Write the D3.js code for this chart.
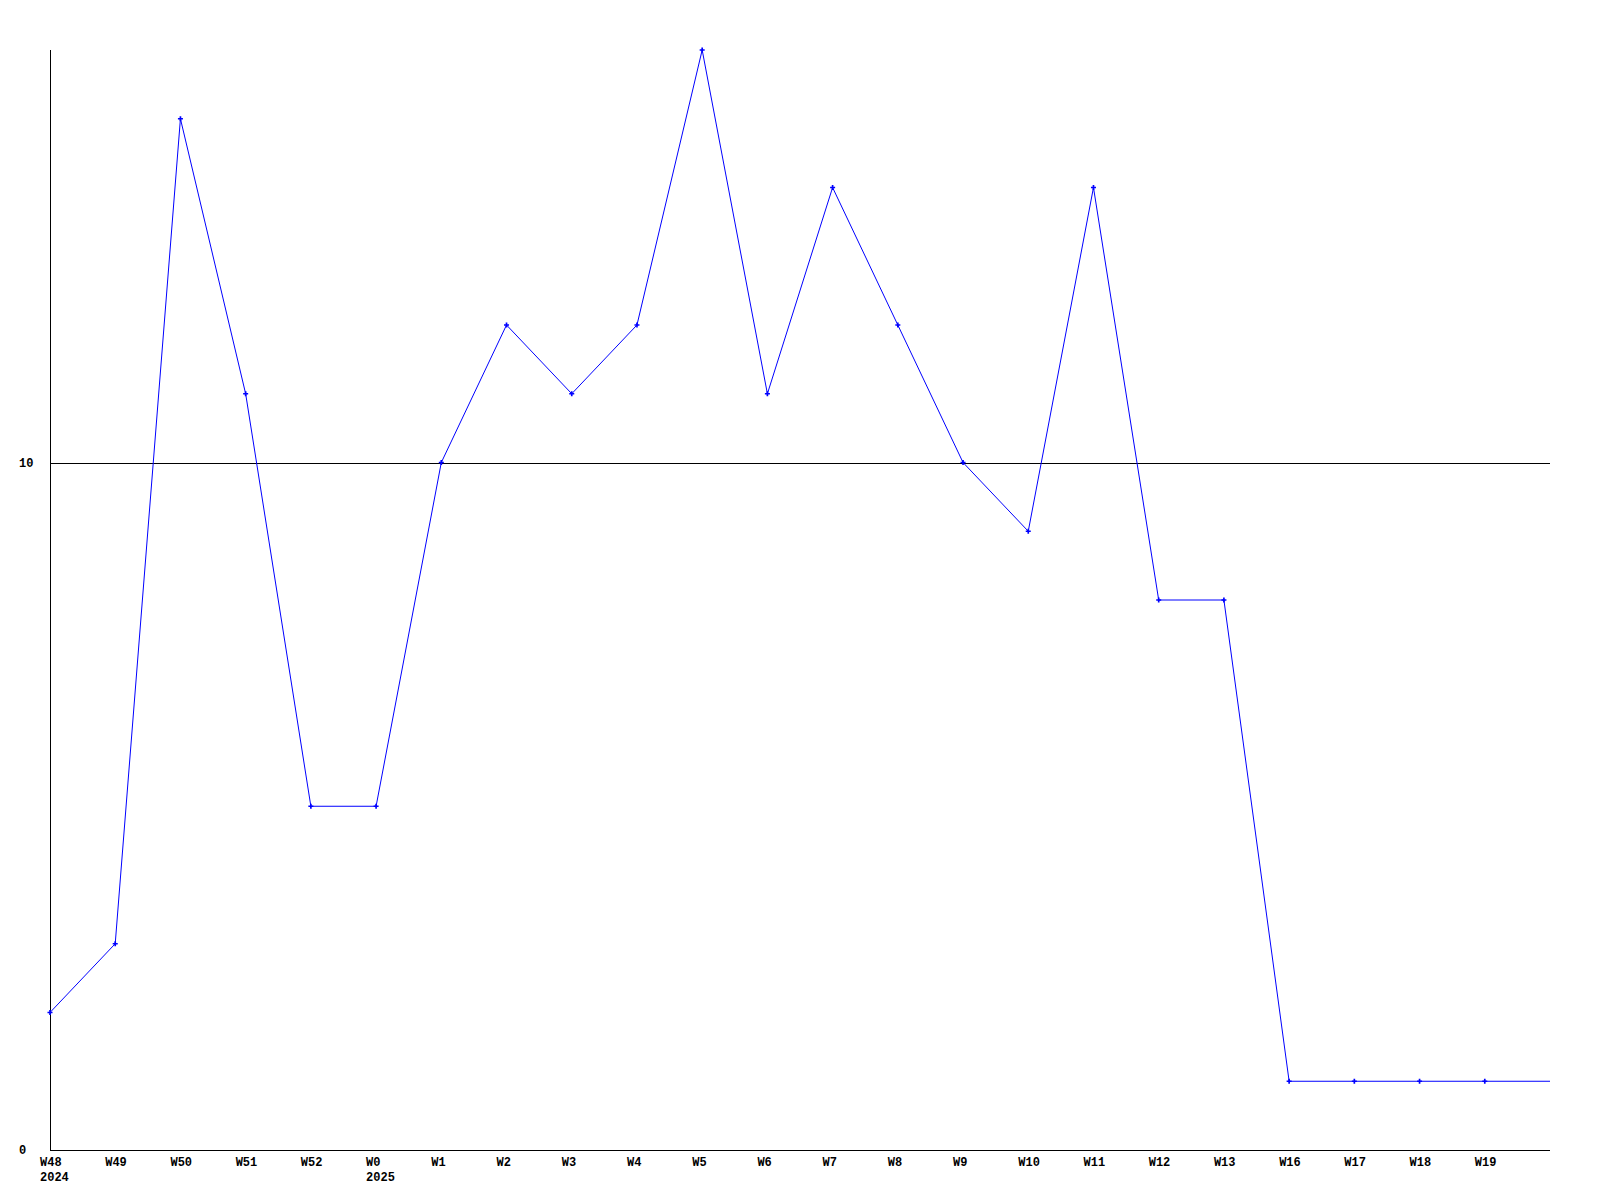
<!DOCTYPE html>
<html><head><meta charset="utf-8">
<script src="https://cdn.jsdelivr.net/npm/d3@7"></script>
<style>html,body{margin:0;padding:0;background:#fff;}svg{display:block;}</style>
</head><body>
<script>
const weekLabels = ["W48","W49","W50","W51","W52","W0","W1","W2","W3","W4","W5","W6","W7","W8","W9","W10","W11","W12","W13","W16","W17","W18","W19",""];
const yearLabels = ["2024","","","","","2025","","","","","","","","","","","","","","","","","",""];
const values = [2,3,15,11,5,5,10,12,11,12,16,11,14,12,10,9,14,8,8,1,1,1,1,1];
const yTicks = [0,10];

(function () {
const W = 1600, H = 1200;
const mLeft = 50, mRight = 1550, mTop = 50, mBottom = 1150;
const svg = d3.select("body").append("svg").attr("width", W).attr("height", H);
const font = "'Liberation Mono','DejaVu Sans Mono',monospace";

const x = d3.scaleLinear().domain([0, weekLabels.length - 1]).range([mLeft, mRight]);
const y = d3.scaleLinear().domain([0, 16]).range([mBottom, mTop]);

// grid line at 10
svg.selectAll("line.grid").data(yTicks.filter(t => t > 0)).enter().append("line")
  .attr("x1", mLeft).attr("x2", mRight)
  .attr("y1", d => Math.round(y(d)) + 0.5).attr("y2", d => Math.round(y(d)) + 0.5)
  .attr("stroke", "#000").attr("stroke-width", 1);

// axes
svg.append("line").attr("x1", mLeft + 0.5).attr("x2", mLeft + 0.5).attr("y1", mTop).attr("y2", mBottom + 1)
  .attr("stroke", "#000");
svg.append("line").attr("x1", mLeft).attr("x2", mRight).attr("y1", mBottom + 0.5).attr("y2", mBottom + 0.5)
  .attr("stroke", "#000");

// y labels
svg.selectAll("text.ylab").data(yTicks).enter().append("text")
  .attr("x", 19).attr("y", d => y(d)).attr("dy", "0.35em")
  .attr("font-family", font).attr("font-weight", "bold").attr("font-size", 12)
  .text(d => d);

// x labels
const xl = svg.selectAll("g.xl").data(weekLabels).enter().append("g")
  .attr("transform", (d, i) => `translate(${x(i) - 10},0)`);
xl.append("text").attr("x", 0).attr("y", 1166)
  .attr("font-family", font).attr("font-weight", "bold").attr("font-size", 12).text(d => d);
xl.append("text").attr("x", 0).attr("y", 1181)
  .attr("font-family", font).attr("font-weight", "bold").attr("font-size", 12)
  .text((d, i) => yearLabels[i]);

// line
const line = d3.line().x((d, i) => x(i)).y(d => y(d));
svg.append("path").datum(values).attr("d", line)
  .attr("fill", "none").attr("stroke", "#0000ff").attr("stroke-width", 1);

// markers
const sym = d3.symbol().type(d3.symbolCross).size(14);
svg.selectAll("path.m").data(values.slice(0, values.length - 1)).enter().append("path")
  .attr("d", sym).attr("fill", "#0000ff")
  .attr("transform", (d, i) => `translate(${x(i)},${y(d)})`);
})();
</script>
</body></html>
